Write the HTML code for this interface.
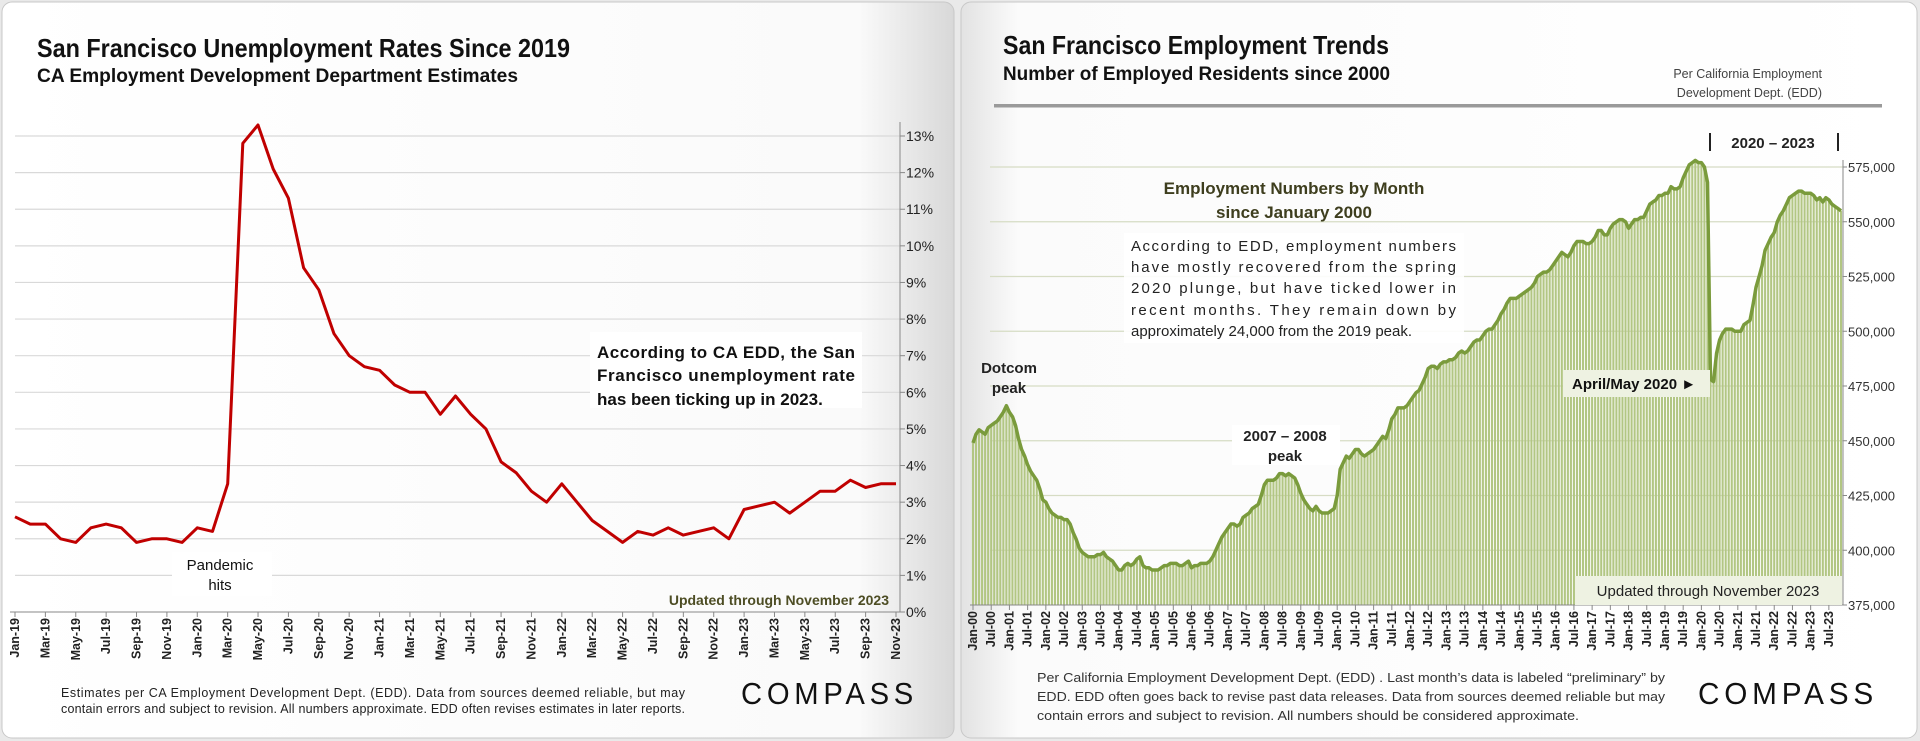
<!DOCTYPE html>
<html><head><meta charset="utf-8"><title>San Francisco unemployment and employment charts</title>
<style>
html,body{margin:0;padding:0;background:#e9e9e9;}
svg{display:block;font-family:"Liberation Sans Narrow","Liberation Sans",sans-serif;}
</style></head>
<body>
<svg id="root" width="1920" height="741" viewBox="0 0 1920 741" xmlns="http://www.w3.org/2000/svg">
<defs>
<linearGradient id="foldL" x1="0" x2="1" y1="0" y2="0"><stop offset="0" stop-color="#ffffff"/><stop offset="0.9" stop-color="#fafafa"/><stop offset="1" stop-color="#d8d8d8"/></linearGradient>
<linearGradient id="foldR" x1="0" x2="1" y1="0" y2="0"><stop offset="0" stop-color="#e2e2e2"/><stop offset="0.06" stop-color="#fbfbfb"/><stop offset="1" stop-color="#ffffff"/></linearGradient>
</defs>
<rect x="2" y="2" width="952" height="736" rx="10" fill="url(#foldL)" stroke="#c8c8c8"/>
<rect x="961" y="2" width="956" height="736" rx="10" fill="url(#foldR)" stroke="#c8c8c8"/>

<!-- Left texts -->
<text x="37" y="57" font-size="26" font-weight="bold" fill="#111" textLength="533" lengthAdjust="spacingAndGlyphs">San Francisco Unemployment Rates Since 2019</text>
<text x="37" y="82" font-size="19" font-weight="bold" fill="#111" textLength="481" lengthAdjust="spacingAndGlyphs">CA Employment Development Department Estimates</text>
<g id="leftChart"></g>
<g font-size="17" font-weight="bold" fill="#111">
<rect x="590" y="332" width="272" height="76" fill="#fff"/>
<text x="597" y="358" textLength="258" lengthAdjust="spacing">According to CA EDD, the San</text>
<text x="597" y="381" textLength="258" lengthAdjust="spacing">Francisco unemployment rate</text>
<text x="597" y="405">has been ticking up in 2023.</text>
</g>
<g font-size="15" fill="#111" text-anchor="middle">
<rect x="172" y="552" width="100" height="44" fill="#fff"/>
<text x="220" y="570">Pandemic</text><text x="220" y="590">hits</text>
</g>
<text x="889" y="605" font-size="14" font-weight="bold" fill="#4d4d24" text-anchor="end">Updated through November 2023</text>
<text x="61" y="697" font-size="12.5" fill="#222" textLength="624" lengthAdjust="spacing">Estimates per CA Employment Development Dept. (EDD). Data from sources deemed reliable, but may</text>
<text x="61" y="713" font-size="12.5" fill="#222" textLength="624" lengthAdjust="spacing">contain errors and subject to revision. All numbers approximate.  EDD often revises estimates in later reports.</text>
<text x="741" y="704" font-size="31" fill="#111" letter-spacing="5" textLength="177" lengthAdjust="spacingAndGlyphs">COMPASS</text>

<!-- Right texts -->
<text x="1003" y="54" font-size="26" font-weight="bold" fill="#111" textLength="386" lengthAdjust="spacingAndGlyphs">San Francisco Employment Trends</text>
<text x="1003" y="80" font-size="19" font-weight="bold" fill="#111" textLength="387" lengthAdjust="spacingAndGlyphs">Number of Employed Residents since 2000</text>
<text x="1822" y="78" font-size="12.5" fill="#444" text-anchor="end">Per California Employment</text>
<text x="1822" y="97" font-size="12.5" fill="#444" text-anchor="end">Development Dept. (EDD)</text>
<rect x="994" y="104" width="888" height="3.5" fill="#9a9a9a"/>
<g id="rightChart"></g>
<g font-size="15" font-weight="bold" fill="#222">
<rect x="1709" y="133" width="2" height="18" fill="#222"/><rect x="1837" y="133" width="2" height="18" fill="#222"/>
<text x="1773" y="148" text-anchor="middle">2020 – 2023</text>
</g>
<g font-size="17" font-weight="bold" fill="#3e3e1e" text-anchor="middle">
<text x="1294" y="194">Employment Numbers by Month</text>
<text x="1294" y="218">since January 2000</text>
</g>
<g font-size="15" fill="#222">
<rect x="1124" y="233" width="340" height="110" fill="#fff" opacity="0.9"/>
<text x="1131" y="251" textLength="325" lengthAdjust="spacing">According to EDD, employment numbers</text>
<text x="1131" y="272" textLength="325" lengthAdjust="spacing">have mostly recovered from the spring</text>
<text x="1131" y="293" textLength="325" lengthAdjust="spacing">2020 plunge, but have ticked lower in</text>
<text x="1131" y="315" textLength="325" lengthAdjust="spacing">recent months. They remain down by</text>
<text x="1131" y="336">approximately 24,000 from the 2019 peak.</text>
</g>
<g font-size="15" font-weight="bold" fill="#222" text-anchor="middle">
<text x="1009" y="373">Dotcom</text><text x="1009" y="393">peak</text>
</g>
<g font-size="15" font-weight="bold" fill="#222" text-anchor="middle">
<rect x="1232" y="425" width="108" height="40" fill="#fff"/>
<text x="1285" y="441">2007 – 2008</text><text x="1285" y="461">peak</text>
</g>
<g>
<rect x="1563" y="370" width="147" height="27" fill="#eef2e2"/>
<text x="1572" y="389" font-size="15" font-weight="bold" fill="#111">April/May 2020 ►</text>
</g>
<g>
<rect x="1575" y="576" width="267" height="29" fill="#eef2e2"/>
<text x="1708" y="596" font-size="15" fill="#222" text-anchor="middle">Updated through November 2023</text>
</g>
<text x="1037" y="682" font-size="12.5" fill="#333" textLength="628" lengthAdjust="spacingAndGlyphs">Per California Employment Development Dept. (EDD) . Last month’s data is labeled “preliminary” by</text>
<text x="1037" y="701" font-size="12.5" fill="#333" textLength="628" lengthAdjust="spacingAndGlyphs">EDD. EDD often goes back to revise past data releases. Data from sources deemed reliable but may</text>
<text x="1037" y="720" font-size="12.5" fill="#333" textLength="542" lengthAdjust="spacingAndGlyphs">contain errors and subject to revision. All numbers should be considered approximate.</text>
<text x="1698" y="704" font-size="31" fill="#111" letter-spacing="5" textLength="180" lengthAdjust="spacingAndGlyphs">COMPASS</text>
</svg>
<script>
// ---------- Left chart data ----------
const unempMonths = ["Jan-19","Mar-19","May-19","Jul-19","Sep-19","Nov-19","Jan-20","Mar-20","May-20","Jul-20","Sep-20","Nov-20","Jan-21","Mar-21","May-21","Jul-21","Sep-21","Nov-21","Jan-22","Mar-22","May-22","Jul-22","Sep-22","Nov-22","Jan-23","Mar-23","May-23","Jul-23","Sep-23","Nov-23"];
const unempRates = [2.6,2.4,2.4,2.0,1.9,2.3,2.4,2.3,1.9,2.0,2.0,1.9,
 2.3,2.2,3.5,12.8,13.3,12.1,11.3,9.4,8.8,7.6,7.0,6.7,
 6.6,6.2,6.0,6.0,5.4,5.9,5.4,5.0,4.1,3.8,3.3,3.0,
 3.5,3.0,2.5,2.2,1.9,2.2,2.1,2.3,2.1,2.2,2.3,2.0,
 2.8,2.9,3.0,2.7,3.0,3.3,3.3,3.6,3.4,3.5,3.5];
const unempTicks = [0,1,2,3,4,5,6,7,8,9,10,11,12,13];

// ---------- Right chart data (thousands) ----------
const empYears = ["00","01","02","03","04","05","06","07","08","09","10","11","12","13","14","15","16","17","18","19","20","21","22","23"];
const employed = [
449,453,455,454,453,456,457,458,459,461,463,466,
463,461,457,451,446,443,439,436,434,432,428,423,
422,419,417,416,415,415,414,414,412,408,405,401,
399,398,397,397,397,398,398,399,397,396,395,393,
391,391,393,394,393,394,396,397,393,392,392,391,
391,391,392,393,393,394,394,394,393,393,394,395,
392,393,393,394,394,394,395,397,400,403,406,408,
410,412,412,411,412,415,416,417,419,420,421,425,
430,432,432,432,433,435,435,434,435,434,433,430,
426,423,421,419,418,420,418,417,417,417,418,419,
425,437,440,443,442,444,446,446,444,443,444,445,
446,448,450,452,451,455,460,462,465,465,465,466,
468,470,472,473,476,479,483,484,484,483,485,486,
486,487,487,488,490,491,490,491,493,495,496,496,
498,500,501,501,503,505,508,510,513,515,515,515,
516,517,518,519,520,522,525,526,527,527,528,530,
532,534,536,535,534,536,539,541,541,541,540,540,
541,543,546,546,544,544,547,549,550,551,551,550,
547,549,551,551,552,552,555,558,559,560,562,562,
563,563,566,565,565,566,570,573,576,577,578,577,
577,575,568,478,477,490,496,499,501,501,501,500,
500,500,503,504,505,512,520,525,530,537,540,543,
545,550,553,555,558,561,562,563,564,564,563,563,
563,562,560,561,559,561,560,558,557,556,555];
const empTicks = [375,400,425,450,475,500,525,550,575];

const NS = "http://www.w3.org/2000/svg";
function mk(tag, attrs, parent, txt){
  const e = document.createElementNS(NS, tag);
  for (const k in attrs) e.setAttribute(k, attrs[k]);
  if (txt !== undefined) e.textContent = txt;
  parent.appendChild(e);
  return e;
}

// ---------- Left chart ----------
(function(){
  const g = document.getElementById('leftChart');
  const x0 = 15, x1 = 896, y0 = 612, yTop = 136, vMax = 13;
  const xs = i => x0 + (x1 - x0) * i / (unempRates.length - 1);
  const ys = v => y0 - (y0 - yTop) * v / vMax;
  unempTicks.forEach(t => {
    if (t > 0) {
      const gl = mk('line', {x1: x0, x2: 900, y1: ys(t), y2: ys(t), stroke: '#d9d9d9', 'stroke-width': 1.2}, g);
      
      
    }
    const tl = mk('text', {x: 906, y: ys(t) + 5, 'font-size': 14, fill: '#222'}, g, t + '%');
    
    
    const tk = mk('line', {x1: 900, x2: 905, y1: ys(t), y2: ys(t), stroke: '#888'}, g);
    
    
  });
  const ax = mk('line', {x1: 900, x2: 900, y1: 122, y2: y0, stroke: '#888'}, g);
  
  
  const bx = mk('line', {x1: 10, x2: 900, y1: y0, y2: y0, stroke: '#888'}, g);
  
  
  unempMonths.forEach((m, k) => {
    const x = xs(k * 2);
    const tk = mk('line', {x1: x, x2: x, y1: y0, y2: y0 + 5, stroke: '#888'}, g);
    
    
    const t = mk('text', {x: 0, y: 0, 'font-size': 12.5, 'font-weight': 'bold', fill: '#222', 'text-anchor': 'end', transform: `translate(${x + 4},${y0 + 6}) rotate(-90)`}, g, m);
    
    
  });
  const pts = unempRates.map((v, i) => xs(i).toFixed(1) + ',' + ys(v).toFixed(1)).join(' ');
  const line = mk('polyline', {points: pts, fill: 'none', stroke: '#c00000', 'stroke-width': 3, 'stroke-linejoin': 'round'}, g);
  
  
})();

// ---------- Right chart ----------
(function(){
  const g = document.getElementById('rightChart');
  const x0 = 973, x1 = 1841, y0 = 605, yTop = 167, vMin = 375, vMax = 575;
  const n = employed.length;
  const xs = i => x0 + (x1 - x0) * i / (n - 1);
  const ys = v => y0 - (y0 - yTop) * (v - vMin) / (vMax - vMin);
  empTicks.forEach(t => {
    if (t > vMin) {
      const gl = mk('line', {x1: 990, x2: 1843, y1: ys(t), y2: ys(t), stroke: '#d6dcc4', 'stroke-width': 1.2}, g);
      
      
    }
    const tl = mk('text', {x: 1848, y: ys(t) + 5, 'font-size': 13, fill: '#333'}, g, t + ',000');
    
    
    const tk = mk('line', {x1: 1843, x2: 1847, y1: ys(t), y2: ys(t), stroke: '#888'}, g);
    
    
  });
  const bw = (x1 - x0) / (n - 1);
  employed.forEach((v, i) => {
    const b = mk('rect', {x: (xs(i) - bw * 0.35).toFixed(2), y: ys(v).toFixed(1), width: (bw * 0.7).toFixed(2), height: (y0 - ys(v)).toFixed(1), fill: '#b2c683'}, g);
    
    
  });
  const pts = employed.map((v, i) => xs(i).toFixed(1) + ',' + ys(v).toFixed(1)).join(' ');
  const line = mk('polyline', {points: pts, fill: 'none', stroke: '#7a9b3c', 'stroke-width': 3.5, 'stroke-linejoin': 'round'}, g);
  
  
  const ax = mk('line', {x1: 1843, x2: 1843, y1: 160, y2: y0, stroke: '#888'}, g);
  
  
  const bx = mk('line', {x1: 970, x2: 1843, y1: y0, y2: y0, stroke: '#888'}, g);
  
  
  empYears.forEach((yy, k) => {
    ['Jan', 'Jul'].forEach((mon, h) => {
      const idx = k * 12 + h * 6;
      if (idx >= n) return;
      const x = xs(idx);
      const tk = mk('line', {x1: x, x2: x, y1: y0, y2: y0 + 5, stroke: '#888'}, g);
      
      
      const t = mk('text', {x: 0, y: 0, 'font-size': 12.5, 'font-weight': 'bold', fill: '#222', 'text-anchor': 'end', transform: `translate(${x + 4},${y0 + 6}) rotate(-90)`}, g, mon + '-' + yy);
      
      
    });
  });
})();
</script>
</body></html>
